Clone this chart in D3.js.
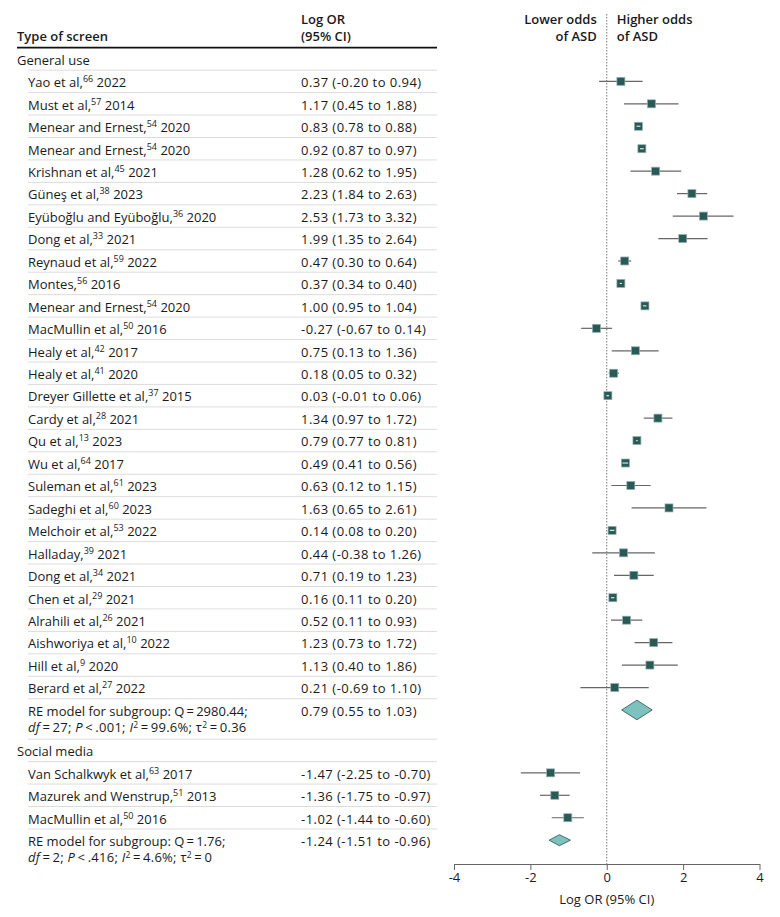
<!DOCTYPE html>
<html>
<head>
<meta charset="utf-8">
<script src="https://cdn.jsdelivr.net/npm/d3@7"></script>
<style>
  body { margin: 0; background: #fff; }
  svg text { font-family: "Open Sans", sans-serif; fill: #1a1a1a; }
</style>
</head>
<body>
<div id="chart"></div>
<script>
/* Data */
const groupLabels = ["General use", "Social media"];

const studyNames = [
  "Yao et al", "Must et al", "Menear and Ernest", "Menear and Ernest", "Krishnan et al",
  "Güneş et al", "Eyüboğlu and Eyüboğlu", "Dong et al", "Reynaud et al", "Montes",
  "Menear and Ernest", "MacMullin et al", "Healy et al", "Healy et al", "Dreyer Gillette et al",
  "Cardy et al", "Qu et al", "Wu et al", "Suleman et al", "Sadeghi et al",
  "Melchoir et al", "Halladay", "Dong et al", "Chen et al", "Alrahili et al",
  "Aishworiya et al", "Hill et al", "Berard et al",
  "Van Schalkwyk et al", "Mazurek and Wenstrup", "MacMullin et al"
];
const studyRefs = [66, 57, 54, 54, 45, 38, 36, 33, 59, 56, 54, 50, 42, 41, 37, 28, 13, 64, 61, 60,
  53, 39, 34, 29, 26, 10, 9, 27, 63, 51, 50];
const studyYears = [2022, 2014, 2020, 2020, 2021, 2023, 2020, 2021, 2022, 2016, 2020, 2016, 2017, 2020,
  2015, 2021, 2023, 2017, 2023, 2023, 2022, 2021, 2021, 2021, 2021, 2022, 2020, 2022, 2017, 2013, 2016];
const studyEst = [0.37, 1.17, 0.83, 0.92, 1.28, 2.23, 2.53, 1.99, 0.47, 0.37, 1.00, -0.27, 0.75, 0.18,
  0.03, 1.34, 0.79, 0.49, 0.63, 1.63, 0.14, 0.44, 0.71, 0.16, 0.52, 1.23, 1.13, 0.21, -1.47, -1.36, -1.02];
const studyLo = [-0.20, 0.45, 0.78, 0.87, 0.62, 1.84, 1.73, 1.35, 0.30, 0.34, 0.95, -0.67, 0.13, 0.05,
  -0.01, 0.97, 0.77, 0.41, 0.12, 0.65, 0.08, -0.38, 0.19, 0.11, 0.11, 0.73, 0.40, -0.69, -2.25, -1.75, -1.44];
const studyHi = [0.94, 1.88, 0.88, 0.97, 1.95, 2.63, 3.32, 2.64, 0.64, 0.40, 1.04, 0.14, 1.36, 0.32,
  0.06, 1.72, 0.81, 0.56, 1.15, 2.61, 0.20, 1.26, 1.23, 0.20, 0.93, 1.72, 1.86, 1.10, -0.70, -0.97, -0.60];
const studyGroup = d3.range(31).map(i => (i < 28 ? 0 : 1));

// Random-effects subgroup summaries
const reEst = [0.79, -1.24];
const reLo = [0.55, -1.51];
const reHi = [1.03, -0.96];
// diamond extent as drawn in the figure
const diamondLo = [0.39, -1.51];
const diamondHi = [1.19, -0.95];
const reLine1 = ["RE model for subgroup: Q\u2009=\u20092980.44;", "RE model for subgroup: Q\u2009=\u20091.76;"];
const reLine2 = [
  [{ t: "df", i: true }, { t: "\u2009=\u200927; " }, { t: "P", i: true }, { t: "\u2009<\u2009.001; " },
   { t: "I", i: true }, { t: "2", sup: true }, { t: "\u2009=\u200999.6%; τ" }, { t: "2", sup: true }, { t: "\u2009=\u20090.36" }],
  [{ t: "df", i: true }, { t: "\u2009=\u20092; " }, { t: "P", i: true }, { t: "\u2009<\u2009.416; " },
   { t: "I", i: true }, { t: "2", sup: true }, { t: "\u2009=\u20094.6%; τ" }, { t: "2", sup: true }, { t: "\u2009=\u20090" }]
];

const xTicks = [-4, -2, 0, 2, 4];

/* Dimensions */
const width = 780;
const height = 917;
const headX = 17;
const studyX = 28;
const valueX = 301;
const tableRight = 437;
const tableTop = 47.7;
const rowH = 22.45;
const reSlots = 1.8;
const diamondH = [19.5, 11];
const fontSize = 13;
const numSpacing = "0.45px";

/* Rows */
const rows = [];
let slot = 0;
groupLabels.forEach((g, gi) => {
  rows.push({ type: "group", g: gi, slot: slot, size: 1 });
  slot += 1;
  studyNames.forEach((n, i) => {
    if (studyGroup[i] !== gi) return;
    rows.push({ type: "study", i: i, slot: slot, size: 1 });
    slot += 1;
  });
  rows.push({ type: "re", g: gi, slot: slot, size: reSlots });
  slot += reSlots;
});

/* Scales */
const yScale = d3.scaleLinear()
  .domain([0, slot])
  .range([tableTop, tableTop + slot * rowH]);

const xScale = d3.scaleLinear()
  .domain([-4, 4])
  .range([454, 759.5]);

const axisY = 864;
const fmt = v => v.toFixed(2);

/* SVG container */
const svg = d3.select("#chart")
  .append("svg")
  .attr("width", width)
  .attr("height", height);

// text with italic / superscript pieces
function richText(sel, x, y, parts, supSize, supRise) {
  const t = sel.append("text").attr("x", x).attr("y", y).style("font-size", fontSize + "px");
  let shifted = false;
  parts.forEach(p => {
    const ts = t.append("tspan").text(p.t);
    if (p.i) ts.style("font-style", "italic");
    if (p.sup) {
      ts.style("font-size", supSize + "px").attr("dy", -supRise);
      shifted = true;
    } else if (shifted) {
      ts.attr("dy", supRise);
      shifted = false;
    }
  });
  return t;
}

function boldText(x, y, s, anchor) {
  return svg.append("text")
    .attr("x", x).attr("y", y)
    .attr("text-anchor", anchor || "start")
    .style("font-size", fontSize + "px")
    .style("font-weight", 600)
    .text(s);
}

// Header
boldText(headX, 41, "Type of screen");
boldText(valueX, 24, "Log OR");
boldText(valueX, 41, "(95% CI)");

svg.append("line")
  .attr("x1", headX).attr("x2", tableRight)
  .attr("y1", tableTop).attr("y2", tableTop)
  .attr("stroke", "#111").attr("stroke-width", 1.8);

// Odds labels
boldText(xScale(0) - 10, 24, "Lower odds", "end");
boldText(xScale(0) - 10, 41, "of ASD", "end");
boldText(xScale(0) + 10, 24, "Higher odds");
boldText(xScale(0) + 10, 41, "of ASD");

// Separators
svg.selectAll(".sep")
  .data(rows.slice(0, -1))
  .enter()
  .append("line")
  .attr("class", "sep")
  .attr("x1", studyX).attr("x2", tableRight)
  .attr("y1", d => yScale(d.slot + d.size))
  .attr("y2", d => yScale(d.slot + d.size))
  .attr("stroke", "#dcdcdc").attr("stroke-width", 1);

// Zero line
svg.append("line")
  .attr("x1", xScale(0)).attr("x2", xScale(0))
  .attr("y1", 14).attr("y2", axisY)
  .attr("stroke", "#777").attr("stroke-width", 1)
  .attr("stroke-dasharray", "1.5,1.5");

// Row texts
rows.forEach(r => {
  const top = yScale(r.slot);
  const base = top + 17;
  if (r.type === "group") {
    svg.append("text").attr("x", headX).attr("y", base)
      .style("font-size", fontSize + "px").text(groupLabels[r.g]);
  } else if (r.type === "study") {
    const i = r.i;
    richText(svg, studyX, base, [
      { t: studyNames[i] + "," }, { t: String(studyRefs[i]), sup: true }, { t: " " + studyYears[i] }
    ], 9, 5);
    svg.append("text").attr("x", valueX).attr("y", base)
      .style("font-size", fontSize + "px")
      .style("letter-spacing", numSpacing)
      .text(`${fmt(studyEst[i])} (${fmt(studyLo[i])} to ${fmt(studyHi[i])})`);
  } else {
    const g = r.g;
    svg.append("text").attr("x", studyX).attr("y", base)
      .style("font-size", fontSize + "px").text(reLine1[g]);
    richText(svg, studyX, base + 16.5, reLine2[g], 8.5, 4).style("letter-spacing", "0.25px");
    svg.append("text").attr("x", valueX).attr("y", base)
      .style("font-size", fontSize + "px")
      .style("letter-spacing", numSpacing)
      .text(`${fmt(reEst[g])} (${fmt(reLo[g])} to ${fmt(reHi[g])})`);
  }
});

// CI lines
const studyRows = rows.filter(r => r.type === "study");
const rowMid = r => yScale(r.slot + 0.5);

svg.selectAll(".ci")
  .data(studyRows)
  .enter()
  .append("line")
  .attr("class", "ci")
  .attr("x1", d => xScale(studyLo[d.i]))
  .attr("x2", d => xScale(studyHi[d.i]))
  .attr("y1", rowMid).attr("y2", rowMid)
  .attr("stroke", "#666").attr("stroke-width", 1.2);

// Squares
const sq = 8;
svg.selectAll(".pt")
  .data(studyRows)
  .enter()
  .append("rect")
  .attr("class", "pt")
  .attr("x", d => xScale(studyEst[d.i]) - sq / 2)
  .attr("y", d => rowMid(d) - sq / 2)
  .attr("width", sq).attr("height", sq)
  .attr("fill", "#2b5956")
  .attr("stroke", "#8fb3b0").attr("stroke-width", 0.7);

// light whisker inside squares for narrow intervals
svg.selectAll(".ciIn")
  .data(studyRows.filter(d => xScale(studyHi[d.i]) - xScale(studyLo[d.i]) < sq - 1))
  .enter()
  .append("line")
  .attr("class", "ciIn")
  .attr("x1", d => xScale(studyLo[d.i]))
  .attr("x2", d => xScale(studyHi[d.i]))
  .attr("y1", rowMid).attr("y2", rowMid)
  .attr("stroke", "#d6e4e2").attr("stroke-width", 1.2);

// Diamonds
const reRows = rows.filter(r => r.type === "re");
svg.selectAll(".diamond")
  .data(reRows)
  .enter()
  .append("path")
  .attr("class", "diamond")
  .attr("d", d => {
    const cy = yScale(d.slot + 0.5);
    const h = diamondH[d.g] / 2;
    return `M${xScale(diamondLo[d.g])},${cy}L${xScale(reEst[d.g])},${cy - h}` +
      `L${xScale(diamondHi[d.g])},${cy}L${xScale(reEst[d.g])},${cy + h}Z`;
  })
  .attr("fill", "#7cc3bf")
  .attr("stroke", "#3d5e5b").attr("stroke-width", 0.9);

/* Axis */
const axis = svg.append("g")
  .attr("transform", `translate(0,${axisY})`)
  .call(
    d3.axisBottom(xScale)
      .tickValues(xTicks)
      .tickSize(6)
      .tickSizeOuter(0)
      .tickFormat(d => String(d))
  );
axis.select(".domain").attr("stroke", "#666");
axis.selectAll(".tick line").attr("stroke", "#666");
axis.selectAll(".tick text")
  .attr("y", 9)
  .style("font-size", fontSize + "px")
  .style("font-family", "'Open Sans', sans-serif")
  .attr("fill", "#1a1a1a");

svg.append("text")
  .attr("x", xScale(0)).attr("y", 904)
  .attr("text-anchor", "middle")
  .style("font-size", fontSize + "px")
  .text("Log OR (95% CI)");
</script>
</body>
</html>
